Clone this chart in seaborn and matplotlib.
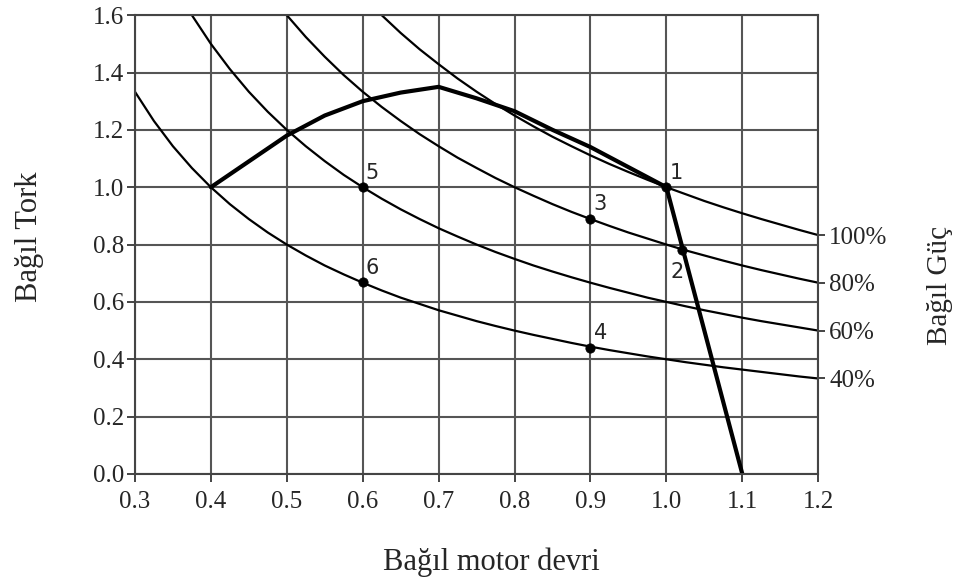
import numpy as np
import pandas as pd
import matplotlib
matplotlib.use("Agg")
import matplotlib.pyplot as plt
import seaborn as sns

# Relative motor speed grid used for the constant-power curves
speed = [0.300, 0.325, 0.350, 0.375, 0.400, 0.425, 0.450, 0.475, 0.500, 0.525,
         0.550, 0.575, 0.600, 0.625, 0.650, 0.675, 0.700, 0.725, 0.750, 0.775,
         0.800, 0.825, 0.850, 0.875, 0.900, 0.925, 0.950, 0.975, 1.000, 1.025,
         1.050, 1.075, 1.100, 1.125, 1.150, 1.175, 1.200]

# Relative torque (nan = above the plot)
nan = np.nan
torque_100 = [nan, nan, nan, nan, nan, nan, nan, nan, nan, nan,
              nan, nan, 1.667, 1.600, 1.538, 1.481, 1.429, 1.379, 1.333, 1.290,
              1.250, 1.212, 1.176, 1.143, 1.111, 1.081, 1.053, 1.026, 1.000, 0.976,
              0.952, 0.930, 0.909, 0.889, 0.870, 0.851, 0.833]
torque_80 = [nan, nan, nan, nan, nan, nan, nan, 1.684, 1.600, 1.524,
             1.455, 1.391, 1.333, 1.280, 1.231, 1.185, 1.143, 1.103, 1.067, 1.032,
             1.000, 0.970, 0.941, 0.914, 0.889, 0.865, 0.842, 0.821, 0.800, 0.780,
             0.762, 0.744, 0.727, 0.711, 0.696, 0.681, 0.667]
torque_60 = [nan, nan, 1.714, 1.600, 1.500, 1.412, 1.333, 1.263, 1.200, 1.143,
             1.091, 1.043, 1.000, 0.960, 0.923, 0.889, 0.857, 0.828, 0.800, 0.774,
             0.750, 0.727, 0.706, 0.686, 0.667, 0.649, 0.632, 0.615, 0.600, 0.585,
             0.571, 0.558, 0.545, 0.533, 0.522, 0.511, 0.500]
torque_40 = [1.333, 1.231, 1.143, 1.067, 1.000, 0.941, 0.889, 0.842, 0.800, 0.762,
             0.727, 0.696, 0.667, 0.640, 0.615, 0.593, 0.571, 0.552, 0.533, 0.516,
             0.500, 0.485, 0.471, 0.457, 0.444, 0.432, 0.421, 0.410, 0.400, 0.390,
             0.381, 0.372, 0.364, 0.356, 0.348, 0.340, 0.333]
power_labels = ["100%", "80%", "60%", "40%"]

# Thick operating-limit line
limit_speed = [0.40, 0.50, 0.55, 0.60, 0.65, 0.70, 0.75, 0.80, 0.85, 0.90, 0.95, 1.00, 1.10]
limit_torque = [1.00, 1.18, 1.25, 1.30, 1.33, 1.35, 1.31, 1.265, 1.20, 1.14, 1.07, 1.00, 0.00]

# Numbered operating points
point_names = ["1", "2", "3", "4", "5", "6"]
point_speed = [1.00, 1.02, 0.90, 0.90, 0.60, 0.60]
point_torque = [1.00, 0.78, 0.89, 0.44, 1.00, 0.67]

sns.set_style("ticks")
plt.rcParams['font.family'] = ['Liberation Serif', 'DejaVu Serif']

fig = plt.figure(figsize=(9.57, 5.83), dpi=100)
ax = fig.add_axes([0.141, 0.187, 0.714, 0.787])

curves = pd.DataFrame({
    "speed": speed * 4,
    "torque": torque_100 + torque_80 + torque_60 + torque_40,
    "power": sum([[p] * len(speed) for p in power_labels], []),
})
for p in power_labels:
    sub = curves[curves["power"] == p].dropna()
    sns.lineplot(data=sub, x="speed", y="torque", ax=ax, color="black",
                 lw=1.6, sort=False, estimator=None)

sns.lineplot(x=limit_speed, y=limit_torque, ax=ax, color="black", lw=3.0,
             sort=False, estimator=None, solid_joinstyle="round")

sns.scatterplot(x=point_speed, y=point_torque, ax=ax, color="black", s=45,
                edgecolor="black", zorder=5)
for name, xs, ys in zip(point_names, point_speed, point_torque):
    if name == "2":
        ax.text(xs - 0.014, ys - 0.075, name, fontsize=15, family="DejaVu Sans",
                ha="left", va="center")
    else:
        ax.text(xs + 0.004, ys + 0.05, name, fontsize=15, family="DejaVu Sans",
                ha="left", va="center")

ax.set_xlim(0.3, 1.2)
ax.set_ylim(0.0, 1.6)
ax.set_xticks(np.arange(0.3, 1.21, 0.1))
ax.set_yticks(np.arange(0.0, 1.61, 0.2))
ax.set_xticklabels([f"{v:.1f}" for v in np.arange(0.3, 1.21, 0.1)])
ax.set_yticklabels([f"{v:.1f}" for v in np.arange(0.0, 1.61, 0.2)])
ax.set_xlabel("")
ax.set_ylabel("")
ax.grid(True, color="#555555", lw=1.5)
ax.tick_params(axis="both", labelsize=18, length=6, width=1.4, color="#444444", pad=2)
ax.tick_params(axis="x", pad=6)
for s in ax.spines.values():
    s.set_color("#444444")
    s.set_linewidth(1.5)
    s.set_visible(True)

# Right-hand power labels
ax2 = ax.twinx()
ax2.set_ylim(0.0, 1.6)
ax2.set_yticks([torque_100[-1], torque_80[-1], torque_60[-1], torque_40[-1]])
ax2.set_yticklabels(power_labels)
ax2.tick_params(axis="y", labelsize=18, length=5, width=1.4, color="#444444", pad=3)
for s in ax2.spines.values():
    s.set_visible(False)

fig.text(491 / 957, 1 - 562 / 583, "Bağıl motor devri", fontsize=22, ha="center", va="center")
fig.text(29 / 957, 1 - 237 / 583, "Bağıl Tork", fontsize=22, rotation=90, ha="center", va="center")
fig.text(940 / 957, 1 - 285 / 583, "Bağıl Güç", fontsize=21, rotation=90, ha="center", va="center")

fig.savefig("out.png", dpi=100)
